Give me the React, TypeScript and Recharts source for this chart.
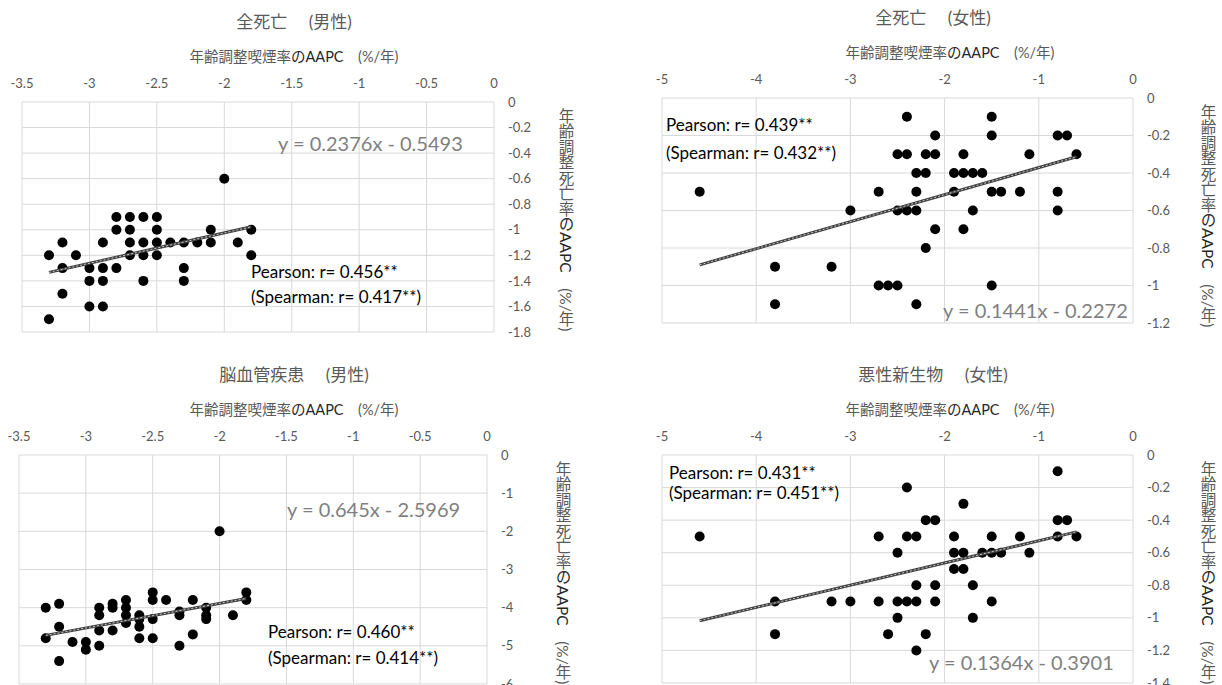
import React from 'react';
import { ScatterChart, Scatter, XAxis, YAxis, CartesianGrid } from 'recharts';

const FONT = 'Lato, "Noto Sans CJK JP", sans-serif';
const GRAY = '#595959';

// x ticks: 男性 / 女性 smoking AAPC
const maleXTicks = [-3.5, -3, -2.5, -2, -1.5, -1, -0.5, 0];
const femaleXTicks = [-5, -4, -3, -2, -1, 0];

// y ticks per panel
const p1YTicks = [-1.8, -1.6, -1.4, -1.2, -1, -0.8, -0.6, -0.4, -0.2, 0];
const p2YTicks = [-1.2, -1, -0.8, -0.6, -0.4, -0.2, 0];
const p3YTicks = [-6, -5, -4, -3, -2, -1, 0];
const p4YTicks = [-1.4, -1.2, -1, -0.8, -0.6, -0.4, -0.2, 0];

// 全死亡 (男性)
const p1X = [-3.3, -3.3, -3.2, -3.2, -3.2, -3.1, -3.0, -3.0, -3.0, -2.9, -2.9, -2.9, -2.9, -2.8, -2.8, -2.8, -2.7, -2.7, -2.7, -2.7, -2.6, -2.6, -2.6, -2.6, -2.5, -2.5, -2.5, -2.5, -2.4, -2.3, -2.3, -2.3, -2.2, -2.1, -2.1, -2.0, -1.9, -1.8, -1.8];
const p1Y = [-1.2, -1.7, -1.1, -1.3, -1.5, -1.2, -1.3, -1.4, -1.6, -1.1, -1.3, -1.4, -1.6, -0.9, -1.0, -1.3, -0.9, -1.0, -1.1, -1.2, -0.9, -1.1, -1.2, -1.4, -0.9, -1.0, -1.1, -1.2, -1.1, -1.1, -1.3, -1.4, -1.1, -1.0, -1.1, -0.6, -1.1, -1.0, -1.2];

// 全死亡 (女性)
const p2X = [-4.6, -3.8, -3.8, -3.2, -3.0, -2.7, -2.7, -2.6, -2.5, -2.5, -2.5, -2.4, -2.4, -2.4, -2.3, -2.3, -2.3, -2.3, -2.2, -2.2, -2.2, -2.1, -2.1, -2.1, -1.9, -1.9, -1.8, -1.8, -1.8, -1.7, -1.7, -1.6, -1.5, -1.5, -1.5, -1.5, -1.4, -1.2, -1.1, -0.8, -0.8, -0.8, -0.7, -0.6];
const p2Y = [-0.5, -0.9, -1.1, -0.9, -0.6, -0.5, -1.0, -1.0, -1.0, -0.3, -0.6, -0.1, -0.3, -0.6, -0.4, -0.5, -0.6, -1.1, -0.4, -0.8, -0.3, -0.2, -0.3, -0.7, -0.4, -0.5, -0.3, -0.4, -0.7, -0.4, -0.6, -0.4, -0.1, -0.2, -0.5, -1.0, -0.5, -0.5, -0.3, -0.2, -0.5, -0.6, -0.2, -0.3];

// 脳血管疾患 (男性)
const p3X = [-3.3, -3.3, -3.2, -3.2, -3.2, -3.1, -3.0, -3.0, -2.9, -2.9, -2.9, -2.9, -2.8, -2.8, -2.8, -2.7, -2.7, -2.7, -2.7, -2.6, -2.6, -2.6, -2.6, -2.5, -2.5, -2.5, -2.5, -2.4, -2.3, -2.3, -2.3, -2.2, -2.2, -2.1, -2.1, -2.1, -2.0, -1.9, -1.8, -1.8];
const p3Y = [-4.0, -4.8, -3.9, -4.5, -5.4, -4.9, -4.9, -5.1, -4.0, -4.2, -4.6, -5.0, -3.9, -4.0, -4.6, -3.8, -4.0, -4.2, -4.4, -4.2, -4.3, -4.5, -4.8, -3.6, -3.8, -4.3, -4.8, -3.8, -4.1, -4.2, -5.0, -3.8, -4.7, -4.0, -4.2, -4.3, -2.0, -4.2, -3.6, -3.8];

// 悪性新生物 (女性)
const p4X = [-4.6, -3.8, -3.8, -3.2, -3.0, -2.7, -2.7, -2.6, -2.5, -2.5, -2.5, -2.4, -2.4, -2.4, -2.3, -2.3, -2.3, -2.3, -2.2, -2.2, -2.1, -2.1, -2.1, -1.9, -1.9, -1.9, -1.8, -1.8, -1.8, -1.7, -1.7, -1.6, -1.5, -1.5, -1.5, -1.4, -1.2, -1.1, -0.8, -0.8, -0.8, -0.7, -0.6];
const p4Y = [-0.5, -0.9, -1.1, -0.9, -0.9, -0.9, -0.5, -1.1, -0.6, -0.9, -1.0, -0.2, -0.5, -0.9, -0.5, -0.8, -0.9, -1.2, -0.4, -1.1, -0.4, -0.8, -0.9, -0.5, -0.6, -0.7, -0.3, -0.6, -0.7, -0.8, -1.0, -0.6, -0.5, -0.6, -0.9, -0.6, -0.5, -0.6, -0.1, -0.4, -0.5, -0.4, -0.5];

// trendline coefficients [slope, intercept] as printed on the chart
const p1Trend = [0.2376, -0.5493];
const p2Trend = [0.1441, -0.2272];
const p3Trend = [0.645, -2.5969];
const p4Trend = [0.1364, -0.3901];

const xTitle = (
  <>年齢調整喫煙率<span style={{ color: '#262626' }}>のAAPC</span>　(%/年)</>
);
const yTitle = (
  <>年齢調整死亡率<span style={{ color: '#262626' }}>のAAPC</span>　(%/年)</>
);

const toPoints = (xs: number[], ys: number[]) => xs.map((x, i) => ({ x, y: ys[i] }));

const trendPoints = (xs: number[], coef: number[]) => {
  const lo = Math.min(...xs);
  const hi = Math.max(...xs);
  return [
    { x: lo, y: coef[0] * lo + coef[1] },
    { x: hi, y: coef[0] * hi + coef[1] },
  ];
};

const Dot = (p: any) => <circle cx={p.cx} cy={p.cy} r={5} fill="#000" />;
const NoDot = () => <g />;

interface PanelProps {
  box: [number, number, number, number];
  xTicks: number[];
  yTicks: number[];
  xs: number[];
  ys: number[];
  coef: number[];
  title: string;
  titleX: number;
  axisX: number;
  eq: string;
  eqPos: [number, number];
  pearson: string;
  spearman: string;
  statPos: [number, number, number];
  yTitleX: number;
}

const Panel: React.FC<PanelProps> = (props) => {
  const [x0, y0, x1, y1] = props.box;
  const left = x0 - 20;
  const top = y0 - 40;
  const width = x1 - x0 + 20 + 50;
  const height = y1 - y0 + 40 + 10;
  const tickStyle = { fill: GRAY, fontSize: 13, fontFamily: FONT };

  return (
    <>
      <div style={{ position: 'absolute', left: props.titleX, top: y0 - 90, transform: 'translateX(-50%)', fontSize: 17, color: GRAY, whiteSpace: 'nowrap', lineHeight: 1.2 }}>
        {props.title}
      </div>
      <div style={{ position: 'absolute', left: props.axisX, top: y0 - 54, transform: 'translateX(-50%)', fontSize: 14.5, color: GRAY, whiteSpace: 'nowrap', lineHeight: 1.2 }}>
        {xTitle}
      </div>
      <div style={{ position: 'absolute', left, top }}>
        <ScatterChart width={width} height={height} margin={{ top: 0, left: 20, right: 0, bottom: 10 }}>
          <CartesianGrid stroke="#d9d9d9" />
          <XAxis type="number" dataKey="x" orientation="top" height={40} domain={[props.xTicks[0], 0]} ticks={props.xTicks} interval={0} tickLine={false} axisLine={false} tickMargin={8} tick={tickStyle} />
          <YAxis type="number" dataKey="y" orientation="right" width={50} domain={[props.yTicks[0], 0]} ticks={props.yTicks} interval={0} tickLine={false} axisLine={false} tickMargin={8} tick={tickStyle} />
          <Scatter data={toPoints(props.xs, props.ys)} shape={Dot} isAnimationActive={false} />
          <Scatter data={trendPoints(props.xs, props.coef)} shape={NoDot} line={{ stroke: '#404040', strokeWidth: 3 }} fill="#404040" isAnimationActive={false} />
          <Scatter data={trendPoints(props.xs, props.coef)} shape={NoDot} line={{ stroke: '#c8c8c8', strokeWidth: 1, strokeDasharray: '2 2' }} fill="#c8c8c8" isAnimationActive={false} />
        </ScatterChart>
      </div>
      <div style={{ position: 'absolute', left: props.yTitleX - 9, top: y0 + 6, writingMode: 'vertical-rl', fontSize: 15.5, color: GRAY, whiteSpace: 'nowrap', lineHeight: 1.2 }}>
        {yTitle}
      </div>
      <div style={{ position: 'absolute', left: props.eqPos[0], top: props.eqPos[1] - 10, fontSize: 20, color: '#7f7f7f', whiteSpace: 'nowrap', lineHeight: 1 }}>
        {props.eq}
      </div>
      <div style={{ position: 'absolute', left: props.statPos[0], top: props.statPos[1] - 9, fontSize: 17, color: '#000', whiteSpace: 'nowrap', lineHeight: 1 }}>
        {props.pearson}
      </div>
      <div style={{ position: 'absolute', left: props.statPos[0], top: props.statPos[2] - 9, fontSize: 17, color: '#000', whiteSpace: 'nowrap', lineHeight: 1 }}>
        {props.spearman}
      </div>
    </>
  );
};

export default function App() {
  return (
    <div style={{ position: 'absolute', left: 0, top: 0, width: 1222, height: 685, overflow: 'hidden', background: '#fff', fontFamily: FONT }}>
      <Panel box={[22, 102, 494, 332]} xTicks={maleXTicks} yTicks={p1YTicks} xs={p1X} ys={p1Y} coef={p1Trend}
        title="全死亡　 (男性)" titleX={294} axisX={294}
        eq="y = 0.2376x - 0.5493" eqPos={[278, 143]}
        pearson="Pearson: r= 0.456**" spearman="(Spearman: r= 0.417**)" statPos={[251, 272, 297]} yTitleX={565} />
      <Panel box={[662, 98, 1133, 323]} xTicks={femaleXTicks} yTicks={p2YTicks} xs={p2X} ys={p2Y} coef={p2Trend}
        title="全死亡　 (女性)" titleX={933} axisX={950}
        eq="y = 0.1441x - 0.2272" eqPos={[943, 310]}
        pearson="Pearson: r= 0.439**" spearman="(Spearman: r= 0.432**)" statPos={[666, 125, 153]} yTitleX={1207} />
      <Panel box={[19, 455, 487, 684]} xTicks={maleXTicks} yTicks={p3YTicks} xs={p3X} ys={p3Y} coef={p3Trend}
        title="脳血管疾患　 (男性)" titleX={294} axisX={294}
        eq="y = 0.645x - 2.5969" eqPos={[287, 509]}
        pearson="Pearson: r= 0.460**" spearman="(Spearman: r= 0.414**)" statPos={[268, 632, 658]} yTitleX={562} />
      <Panel box={[662, 455, 1133, 683]} xTicks={femaleXTicks} yTicks={p4YTicks} xs={p4X} ys={p4Y} coef={p4Trend}
        title="悪性新生物　 (女性)" titleX={933} axisX={950}
        eq="y = 0.1364x - 0.3901" eqPos={[929, 662]}
        pearson="Pearson: r= 0.431**" spearman="(Spearman: r= 0.451**)" statPos={[669, 473, 493]} yTitleX={1207} />
    </div>
  );
}
